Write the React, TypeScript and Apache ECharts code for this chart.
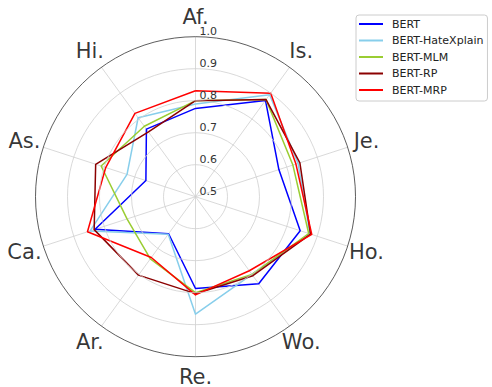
import React, { useEffect, useRef } from 'react';
import * as echarts from 'echarts';

// Axis categories, clockwise from the top
const categories = ['Af.', 'Is.', 'Je.', 'Ho.', 'Wo.', 'Re.', 'Ar.', 'Ca.', 'As.', 'Hi.'];

// Radial scale
const radialMin = 0.5;
const radialMax = 1.0;
const radialStep = 0.1;
const nameRadius = 1.062;

const seriesNames = ['BERT', 'BERT-HateXplain', 'BERT-MLM', 'BERT-RP', 'BERT-MRP'];
const bert = [0.776, 0.872, 0.774, 0.844, 0.836, 0.787, 0.643, 0.83, 0.663, 0.761];
const bertHateXplain = [0.79, 0.894, 0.837, 0.876, 0.8, 0.867, 0.645, 0.846, 0.725, 0.805];
const bertMLM = [0.8, 0.875, 0.82, 0.872, 0.8, 0.8, 0.74, 0.725, 0.81, 0.772];
const bertRP = [0.8, 0.875, 0.843, 0.878, 0.805, 0.803, 0.803, 0.833, 0.828, 0.75];
const bertMRP = [0.831, 0.9, 0.83, 0.882, 0.786, 0.807, 0.735, 0.855, 0.795, 0.822];
const seriesValues = [bert, bertHateXplain, bertMLM, bertRP, bertMRP];
const seriesColors = ['#0000ff', '#87ceeb', '#9acd32', '#8b0000', '#ff0000'];

export default function App() {
  const ref = useRef<HTMLDivElement>(null);

  useEffect(() => {
    if (!ref.current) return;
    const chart = echarts.init(ref.current, undefined, { renderer: 'svg' });
    const n = categories.length;
    // radar places indicators counter-clockwise; reorder so they read clockwise
    const ccwOrder = categories.map((_, i) => (n - i) % n);
    const center = [195.5, 196.7];
    const radius = 160;
    const font = 'DejaVu Sans, sans-serif';

    chart.setOption({
      animation: false,
      backgroundColor: '#ffffff',
      legend: {
        orient: 'vertical',
        left: 356,
        top: 15,
        padding: [2, 4, 4, 3],
        itemGap: 2.5,
        itemWidth: 24,
        itemHeight: 2,
        icon: 'rect',
        borderColor: '#cccccc',
        borderWidth: 1,
        borderRadius: 3,
        backgroundColor: '#ffffff',
        data: seriesNames,
        textStyle: {
          fontFamily: font,
          fontSize: 11,
          lineHeight: 14,
          color: '#222',
          padding: [0, 0, 0, 4],
        },
      },
      polar: { center, radius },
      angleAxis: {
        type: 'value',
        min: 0,
        max: 360,
        interval: 360 / n,
        startAngle: 90,
        clockwise: true,
        axisLine: { show: false },
        axisTick: { show: false },
        axisLabel: { show: false },
        splitLine: { show: true, lineStyle: { color: '#cfcfcf', width: 0.8 } },
      },
      radiusAxis: {
        type: 'value',
        min: radialMin,
        max: radialMax,
        interval: radialStep,
        axisLine: { show: false },
        axisTick: { show: false },
        splitLine: {
          show: true,
          lineStyle: {
            color: ['#cfcfcf', '#cfcfcf', '#cfcfcf', '#cfcfcf', '#cfcfcf', '#333'],
            width: 0.8,
          },
        },
        axisLabel: {
          show: true,
          margin: -4,
          align: 'left',
          verticalAlign: 'bottom',
          fontFamily: font,
          fontSize: 11,
          color: '#333',
          formatter: (v: number) => v.toFixed(1),
        },
        z: 5,
      },
      radar: {
        center,
        radius,
        startAngle: 90,
        shape: 'circle',
        splitNumber: 5,
        indicator: ccwOrder.map((i) => ({ name: categories[i], min: radialMin, max: radialMax })),
        axisName: { show: false },
        axisLine: { show: false },
        splitLine: { show: false },
        splitArea: { show: false },
        axisTick: { show: false },
        axisLabel: { show: false },
      },
      series: [
        ...seriesNames.map((name, s) => ({
          type: 'radar',
          name,
          symbol: 'none',
          z: 3,
          lineStyle: { color: seriesColors[s], width: 1.5 },
          itemStyle: { color: seriesColors[s] },
          data: [{ name, value: ccwOrder.map((i) => seriesValues[s][i]) }],
        })),
        {
          type: 'scatter',
          coordinateSystem: 'polar',
          clip: false,
          silent: true,
          symbolSize: 1,
          itemStyle: { color: 'rgba(0,0,0,0)' },
          label: {
            show: true,
            position: 'inside',
            formatter: '{b}',
            fontFamily: font,
            fontSize: 21,
            lineHeight: 20,
            color: '#000',
          },
          data: categories.map((c, i) => ({ name: c, value: [nameRadius, (i * 360) / n] })),
        },
      ],
    });
    return () => chart.dispose();
  }, []);

  return (
    <div
      ref={ref}
      style={{ position: 'fixed', left: 0, top: 0, width: 492, height: 387 }}
    />
  );
}
